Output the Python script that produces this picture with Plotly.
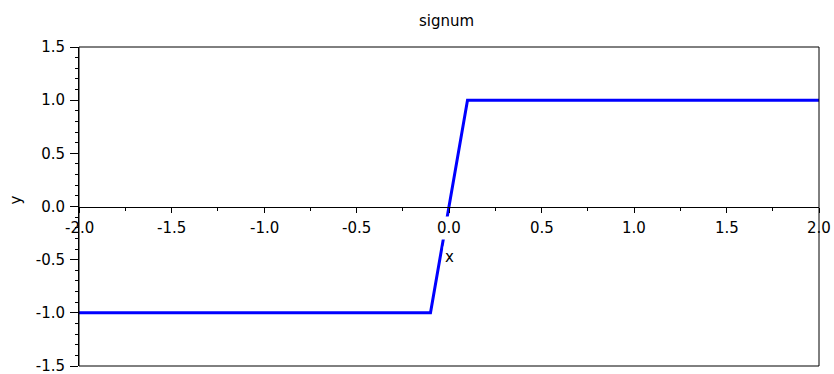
import plotly.graph_objects as go

# ---- data ----
x_vals = [-2.0, -0.1, 0.1, 2.0]
y_vals = [-1.0, -1.0, 1.0, 1.0]
x_ticks = [-2.0, -1.5, -1.0, -0.5, 0.0, 0.5, 1.0, 1.5, 2.0]
x_tick_labels = ["-2.0", "-1.5", "-1.0", "-0.5", "0.0", "0.5", "1.0", "1.5", "2.0"]
y_ticks = [-1.5, -1.0, -0.5, 0.0, 0.5, 1.0, 1.5]
y_tick_labels = ["-1.5", "-1.0", "-0.5", "0.0", "0.5", "1.0", "1.5"]
title_text = "signum"
x_title = "x"
y_title = "y"

FONT = "DejaVu Sans"
fsize = 15

fig = go.Figure()
fig.add_trace(go.Scatter(x=x_vals, y=y_vals, mode="lines",
                         line=dict(color="rgb(0,0,255)", width=3),
                         hoverinfo="skip", showlegend=False))

x_min, x_max = x_ticks[0], x_ticks[-1]
y_min, y_max = y_ticks[0], y_ticks[-1]

annotations = []
for v, t in zip(x_ticks, x_tick_labels):
    interior = x_min < v < x_max
    annotations.append(dict(
        x=v, y=0, xref="x", yref="y", text=t, showarrow=False,
        xanchor="center", yanchor="top", yshift=-9,
        font=dict(family=FONT, size=fsize, color="black"),
        bgcolor="white" if interior else "rgba(0,0,0,0)", borderpad=2))

annotations.append(dict(x=0, y=0, xref="x", yref="y", text=x_title, showarrow=False,
                        xanchor="center", yanchor="middle", yshift=-50,
                        font=dict(family=FONT, size=fsize, color="black"),
                        bgcolor="white", borderpad=1))
annotations.append(dict(x=0, y=0, xref="x domain", yref="y", text=y_title, showarrow=False,
                        xanchor="center", yanchor="middle", xshift=-64, yshift=6,
                        textangle=-90,
                        font=dict(family=FONT, size=fsize, color="black")))
annotations.append(dict(x=0.5, y=1, xref="x domain", yref="y domain", text=title_text,
                        showarrow=False, xanchor="center", yanchor="middle",
                        xshift=-3, yshift=26,
                        font=dict(family=FONT, size=fsize, color="black")))

fig.update_layout(
    width=834, height=374,
    margin=dict(l=79, r=15, t=47, b=8, autoexpand=False),
    paper_bgcolor="white", plot_bgcolor="white",
    showlegend=False,
    annotations=annotations,
    shapes=[dict(type="rect", xref="x domain", yref="y domain",
                 x0=0, x1=1, y0=0, y1=1, layer="above",
                 line=dict(color="black", width=1))],
    xaxis=dict(range=[x_min, x_max], anchor="free", position=0.5,
               automargin=False,
               showline=True, linecolor="black", linewidth=1,
               showgrid=False, zeroline=False,
               tickmode="array", tickvals=x_ticks, ticktext=x_tick_labels,
               showticklabels=False,
               ticks="outside", ticklen=5, tickwidth=1, tickcolor="black",
               minor=dict(dtick=0.25, tick0=0, ticks="outside", ticklen=3,
                          tickwidth=1, tickcolor="black", showgrid=False)),
    yaxis=dict(range=[y_min, y_max], automargin=False,
               showline=True, linecolor="black", linewidth=1,
               showgrid=False, zeroline=False,
               tickmode="array", tickvals=y_ticks, ticktext=y_tick_labels,
               ticks="outside", ticklen=8, tickwidth=1, tickcolor="black",
               ticklabelstandoff=2, ticklabelshift=0, ticklabeloverflow="allow",
               tickfont=dict(family=FONT, size=fsize, color="black"),
               minor=dict(dtick=0.1, tick0=0, ticks="outside", ticklen=3,
                          tickwidth=1, tickcolor="black", showgrid=False)),
)

fig.write_html("out.html")
